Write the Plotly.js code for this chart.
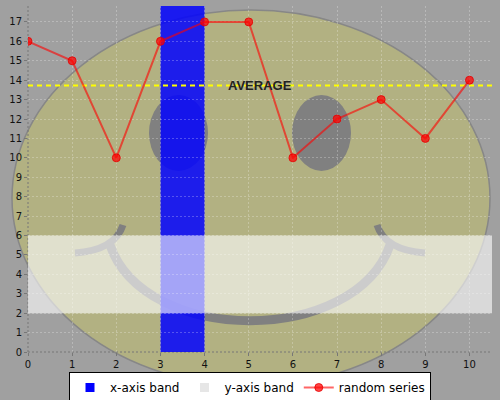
<!DOCTYPE html>
<html>
<head>
<meta charset="utf-8">
<script src="https://cdn.plot.ly/plotly-3.0.1.min.js"></script>
<style>
  html, body { margin: 0; padding: 0; background: #a0a0a0; }
  #chart { width: 500px; height: 400px; }
</style>
</head>
<body>
<div id="chart"></div>
<script>
(function() {
  'use strict';

  // series data
  var xValues = [0, 1, 2, 3, 4, 5, 6, 7, 8, 9, 10];
  var yValues = [16, 15, 10, 16, 17, 17, 10, 12, 13, 11, 14];
  var xBand = [3, 4];
  var yBand = [2, 6];
  var seriesNames = ['x-axis band', 'y-axis band', 'random series'];

  var avg = yValues.reduce(function(a, b) { return a + b; }, 0) / yValues.length;

  // plot box in pixels, used to place the background picture
  var L = 28, T = 6, W = 464, H = 346;
  function px(X) { return (X - L) / W; }
  function py(Y) { return (T + H - Y) / H; }
  function pt(X, Y) { return px(X).toFixed(4) + ',' + py(Y).toFixed(4); }

  var gray = '#808080';
  var shapes = [
    // smiley background
    { type: 'circle', xref: 'paper', yref: 'paper', layer: 'below',
      x0: px(12), x1: px(490), y0: py(386), y1: py(10),
      fillcolor: 'rgb(178,177,130)', line: { color: '#878787', width: 1.5 } },
    { type: 'circle', xref: 'paper', yref: 'paper', layer: 'below',
      x0: px(149), x1: px(208), y0: py(171), y1: py(95),
      fillcolor: gray, line: { width: 0 } },
    { type: 'circle', xref: 'paper', yref: 'paper', layer: 'below',
      x0: px(292), x1: px(351), y0: py(171), y1: py(95),
      fillcolor: gray, line: { width: 0 } },
    { type: 'path', xref: 'paper', yref: 'paper', layer: 'below',
      path: 'M ' + pt(110, 245) + ' C ' + pt(145, 346) + ' ' + pt(355, 346) + ' ' + pt(390, 245),
      line: { color: gray, width: 9 } },
    { type: 'path', xref: 'paper', yref: 'paper', layer: 'below',
      path: 'M ' + pt(75, 253) + ' Q ' + pt(115, 250) + ' ' + pt(123, 225),
      line: { color: gray, width: 7 } },
    { type: 'path', xref: 'paper', yref: 'paper', layer: 'below',
      path: 'M ' + pt(425, 253) + ' Q ' + pt(385, 250) + ' ' + pt(377, 225),
      line: { color: gray, width: 7 } },
    // axis lines, dashed
    { type: 'line', xref: 'paper', yref: 'paper', layer: 'below',
      x0: 0, x1: 0, y0: 0, y1: 1, line: { color: '#777', width: 1, dash: '2px,2px' } },
    { type: 'line', xref: 'paper', yref: 'paper', layer: 'below',
      x0: 0, x1: 1, y0: 0, y1: 0, line: { color: '#777', width: 1, dash: '2px,2px' } },
    // bands
    { type: 'rect', xref: 'x', yref: 'paper', layer: 'below',
      x0: xBand[0], x1: xBand[1], y0: 0, y1: 1,
      fillcolor: 'rgba(0,0,255,0.84)', line: { width: 0 } },
    { type: 'rect', xref: 'paper', yref: 'y', layer: 'below',
      x0: 0, x1: 1, y0: yBand[0], y1: yBand[1],
      fillcolor: 'rgba(255,255,255,0.6)', line: { width: 0 } },
    // average marker
    { type: 'line', xref: 'paper', yref: 'y', layer: 'below',
      x0: 0, x1: 1, y0: avg, y1: avg,
      line: { color: '#ffff00', width: 2, dash: '5px,4px' } }
  ];

  var data = [
    { x: [null], y: [null], type: 'scatter', mode: 'markers', name: seriesNames[0],
      marker: { symbol: 'square', size: 9, color: '#0000ff' }, hoverinfo: 'skip' },
    { x: [null], y: [null], type: 'scatter', mode: 'markers', name: seriesNames[1],
      marker: { symbol: 'square', size: 9, color: '#e6e6e6' }, hoverinfo: 'skip' },
    { x: xValues, y: yValues, type: 'scatter', mode: 'lines+markers', name: seriesNames[2],
      line: { color: 'rgba(255,0,0,0.6)', width: 2 },
      marker: { color: 'rgba(255,0,0,0.72)', size: 8, line: { color: 'rgba(230,0,0,0.8)', width: 1 } } }
  ];

  var axisFont = { family: 'DejaVu Sans, sans-serif', size: 10, color: '#111' };
  var layout = {
    width: 500, height: 400,
    paper_bgcolor: '#a0a0a0',
    plot_bgcolor: 'rgba(0,0,0,0)',
    margin: { l: L, r: 500 - L - W, t: T, b: 400 - T - H },
    font: { family: 'DejaVu Sans, sans-serif', color: '#111', size: 12 },
    showlegend: true,
    xaxis: {
      range: [0, 10.51], dtick: 1, tick0: 0,
      showline: false, zeroline: false,
      gridcolor: 'rgba(255,255,255,0.25)', griddash: '2px,2px', gridwidth: 1,
      ticks: 'outside', ticklen: 3, tickcolor: '#777',
      tickfont: axisFont
    },
    yaxis: {
      range: [0, 17.82], dtick: 1, tick0: 0,
      showline: false, zeroline: false,
      gridcolor: 'rgba(255,255,255,0.25)', griddash: '2px,2px', gridwidth: 1,
      ticks: 'outside', ticklen: 3, tickcolor: '#777',
      tickfont: axisFont
    },
    legend: {
      orientation: 'h',
      xref: 'container', yref: 'container',
      x: 0.5, xanchor: 'center', y: 1 - 372 / 400, yanchor: 'top',
      bgcolor: '#ffffff', bordercolor: '#000000', borderwidth: 1,
      font: { family: 'DejaVu Sans, sans-serif', size: 12, color: '#000' },
      itemwidth: 30, tracegroupgap: 0
    },
    shapes: shapes,
    annotations: [
      { x: 0.5, xref: 'paper', y: avg, yref: 'y', text: '<b>AVERAGE</b>',
        showarrow: false, xanchor: 'center', yanchor: 'middle',
        font: { family: 'Liberation Sans, Arial, sans-serif', size: 13, color: '#222' } }
    ]
  };

  Plotly.newPlot('chart', data, layout, { displayModeBar: false, staticPlot: true });
})();
</script>
</body>
</html>
